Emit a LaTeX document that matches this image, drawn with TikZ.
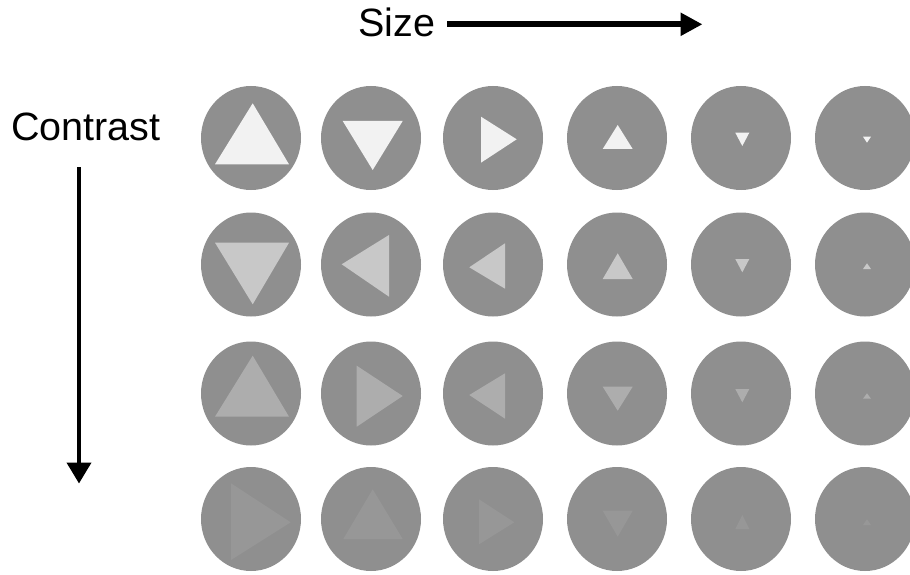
\documentclass[tikz,border=0pt]{standalone}
\usepackage{fontspec}
\setmainfont{Liberation Sans}
\usetikzlibrary{shapes.geometric,arrows.meta}
\definecolor{disc}{HTML}{8F8F8F}
\definecolor{tA}{HTML}{F2F2F2}
\definecolor{tB}{HTML}{C8C8C8}
\definecolor{tC}{HTML}{ADADAD}
\definecolor{tD}{HTML}{979797}
\begin{document}
\begin{tikzpicture}[x=1pt,y=-1pt,
  disk/.style={ellipse,fill=disc,draw=none,minimum width=100pt,minimum height=104pt,inner sep=0pt},
  lbl/.style={font=\fontsize{39.5}{40}\selectfont,inner sep=0pt,anchor=base},
  axis/.style={-{Triangle[length=#1]},black}
]
\useasboundingbox (0,0) rectangle (910,575);
% discs
\foreach \r/\y in {1/138,2/264.5,3/393.5,4/519}{
  \foreach \c/\x in {1/251,2/371,3/493,4/617,5/741,6/865}{
    \node[disk] (c\r\c) at (\x,\y) {};
  }
}
% row 1
\fill[tA] (252.7,103.3) -- (215,164.3) -- (289,164.3) -- cycle;
\fill[tA] (342.7,121) -- (402.7,121) -- (372.7,170) -- cycle;
\fill[tA] (481,116.7) -- (481,162.7) -- (516.7,139.3) -- cycle;
\fill[tA] (617.7,125) -- (602.7,149) -- (632.7,149) -- cycle;
\fill[tA] (735.3,132.7) -- (749.3,132.7) -- (742.3,146) -- cycle;
\fill[tA] (863,136.7) -- (871,136.7) -- (867,142.7) -- cycle;
% row 2
\fill[tB] (215,242.7) -- (289,242.7) -- (252.7,304.3) -- cycle;
\fill[tB] (341.7,264.3) -- (389,235) -- (389,296.7) -- cycle;
\fill[tB] (469.3,267.3) -- (505,243.3) -- (505,288.7) -- cycle;
\fill[tB] (617.7,253.3) -- (602.7,279) -- (632.7,279) -- cycle;
\fill[tB] (735.3,259) -- (749.3,259) -- (742.3,272.3) -- cycle;
\fill[tB] (867,263.3) -- (863,269) -- (871,269) -- cycle;
% row 3
\fill[tC] (252.7,355.7) -- (215,416.7) -- (289,416.7) -- cycle;
\fill[tC] (356.7,365.7) -- (356.7,426.7) -- (402.7,396) -- cycle;
\fill[tC] (469.3,395) -- (505,373.3) -- (505,418.7) -- cycle;
\fill[tC] (602.7,386.7) -- (632.7,386.7) -- (617.7,410.7) -- cycle;
\fill[tC] (735.3,389) -- (749.3,389) -- (742.3,402.3) -- cycle;
\fill[tC] (867,393.3) -- (863,398.7) -- (871,398.7) -- cycle;
% row 4
\fill[tD] (231,483.3) -- (231,560) -- (290.7,522.3) -- cycle;
\fill[tD] (372.7,489.3) -- (343.3,539) -- (402.7,539) -- cycle;
\fill[tD] (479,499.3) -- (479,544.3) -- (514.3,522.3) -- cycle;
\fill[tD] (602.7,510.7) -- (632.7,510.7) -- (617.7,536.7) -- cycle;
\fill[tD] (742.3,515) -- (735.3,529) -- (749.3,529) -- cycle;
\fill[tD] (867,519.3) -- (863,525) -- (871,525) -- cycle;
% labels
\node[lbl] (size) at (397,36.7) {Size};
\node[lbl] (contrast) at (86,141) {Contrast};
% arrows
\coordinate (hs) at (447,24.3);
\coordinate (he) at (702.5,24.3);
\coordinate (vs) at (79,167);
\coordinate (ve) at (79,483.5);
\draw[line width=6pt,-{Triangle[length=22pt,width=22pt]}] (hs) -- (he);
\draw[line width=4pt,-{Triangle[length=21pt,width=24pt]}] (vs) -- (ve);
\end{tikzpicture}
\end{document}
